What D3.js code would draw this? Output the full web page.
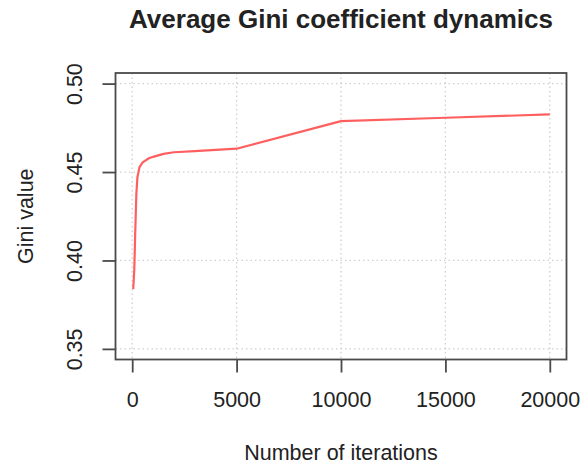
<!DOCTYPE html>
<html>
<head>
<meta charset="utf-8">
<script src="https://cdn.jsdelivr.net/npm/d3@7"></script>
<style>
  html, body { margin: 0; padding: 0; background: #fff; }
  svg { display: block; }
  text { font-family: "Liberation Sans", Arial, sans-serif; fill: #222; }
</style>
</head>
<body>
<svg id="chart" width="581" height="467"></svg>
<script>
// ---- data ----
const iterations = [50, 100, 150, 200, 250, 350, 500, 800, 1000, 1500, 2000, 3000, 5000, 10000, 15000, 20000];
const giniValues = [0.3838, 0.395, 0.418, 0.438, 0.447, 0.4528, 0.4555, 0.4578, 0.4586, 0.4603, 0.4612, 0.4618, 0.4632, 0.4788, 0.4807, 0.4826];
const xTicks = [0, 5000, 10000, 15000, 20000];
const yTicks = [0.35, 0.40, 0.45, 0.50];
const yTickLabels = ["0.35", "0.40", "0.45", "0.50"];
const titleText = "Average Gini coefficient dynamics";
const xLabel = "Number of iterations";
const yLabel = "Gini value";

// ---- layout ----
const W = 581, H = 467;
const plot = { left: 115.5, right: 566.5, top: 73, bottom: 359.5 };

const svg = d3.select("#chart");

const x = d3.scaleLinear().domain([-800, 20800]).range([plot.left, plot.right]);
const y = d3.scaleLinear().domain([0.344, 0.506]).range([plot.bottom, plot.top]);

// grid
const grid = svg.append("g").attr("class", "grid");
grid.selectAll("line.v").data(xTicks).enter().append("line")
  .attr("x1", d => x(d)).attr("x2", d => x(d))
  .attr("y1", plot.top).attr("y2", plot.bottom)
  .attr("stroke", "#cfcfcf").attr("stroke-width", 1.3).attr("stroke-dasharray", "1.5,3");
grid.selectAll("line.h").data(yTicks).enter().append("line")
  .attr("y1", d => y(d)).attr("y2", d => y(d))
  .attr("x1", plot.left).attr("x2", plot.right)
  .attr("stroke", "#cfcfcf").attr("stroke-width", 1.3).attr("stroke-dasharray", "1.5,3");

// line
const pts = iterations.map((it, i) => [it, giniValues[i]]);
svg.append("path")
  .datum(pts)
  .attr("fill", "none")
  .attr("stroke", "#ff5f5f")
  .attr("stroke-width", 2.2)
  .attr("stroke-linejoin", "round")
  .attr("d", d3.line().x(d => x(d[0])).y(d => y(d[1])));

// frame
svg.append("rect")
  .attr("x", plot.left).attr("y", plot.top)
  .attr("width", plot.right - plot.left).attr("height", plot.bottom - plot.top)
  .attr("fill", "none").attr("stroke", "#4a4a4a").attr("stroke-width", 1.8);

// x axis
const xAxis = d3.axisBottom(x).tickValues(xTicks).tickSize(13).tickFormat(d3.format("d"));
const gx = svg.append("g").attr("transform", `translate(0,${plot.bottom})`).call(xAxis);
gx.select(".domain").remove();
gx.selectAll(".tick line").attr("stroke", "#4a4a4a").attr("stroke-width", 1.8);
gx.selectAll(".tick text")
  .attr("y", 47.5).attr("dy", 0)
  .style("font-size", "21.5px")
  .style("font-family", "'Liberation Sans', Arial, sans-serif")
  .attr("fill", "#222");

// y axis
const yAxis = d3.axisLeft(y).tickValues(yTicks).tickSize(13).tickFormat((d, i) => yTickLabels[i]);
const gy = svg.append("g").attr("transform", `translate(${plot.left},0)`).call(yAxis);
gy.select(".domain").remove();
gy.selectAll(".tick line").attr("stroke", "#4a4a4a").attr("stroke-width", 1.8);
gy.selectAll(".tick text")
  .attr("x", null).attr("dy", 0)
  .attr("transform", `translate(${82 - plot.left},0) rotate(-90)`)
  .attr("text-anchor", "middle")
  .style("font-size", "21.5px")
  .style("font-family", "'Liberation Sans', Arial, sans-serif")
  .attr("fill", "#222");

// title
svg.append("text")
  .attr("x", (plot.left + plot.right) / 2).attr("y", 27.5)
  .attr("text-anchor", "middle")
  .style("font-size", "26px").style("font-weight", "bold")
  .attr("fill", "#111")
  .text(titleText);

// axis labels
svg.append("text")
  .attr("x", (plot.left + plot.right) / 2).attr("y", 460)
  .attr("text-anchor", "middle")
  .style("font-size", "21.5px")
  .text(xLabel);

svg.append("text")
  .attr("transform", `translate(32.5,${(plot.top + plot.bottom) / 2}) rotate(-90)`)
  .attr("text-anchor", "middle")
  .style("font-size", "21.5px")
  .text(yLabel);
</script>
</body>
</html>
